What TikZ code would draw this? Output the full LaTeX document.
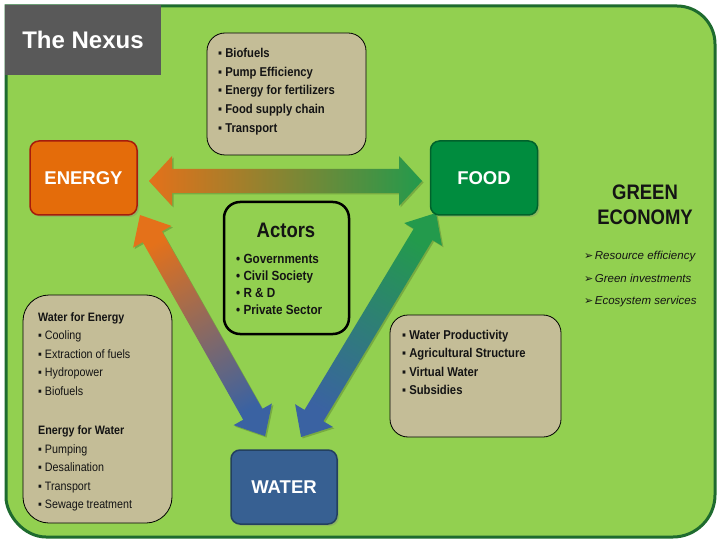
\documentclass[tikz,border=0pt]{standalone}
\usepackage{fontspec}
\setmainfont{Liberation Sans}
\newfontfamily\dejavu{DejaVu Sans}
\newfontfamily\nxnarrow[FakeStretch=0.88]{Liberation Sans}
\usetikzlibrary{shadows,calc}
\definecolor{bggreen}{HTML}{92D050}
\definecolor{bordergreen}{HTML}{1E6B2E}
\definecolor{titlegray}{HTML}{595959}
\definecolor{tanfill}{HTML}{C4BD97}
\definecolor{energyfill}{HTML}{E46C0A}
\definecolor{energyline}{HTML}{A61C0C}
\definecolor{foodfill}{HTML}{008C3E}
\definecolor{foodline}{HTML}{00622B}
\definecolor{waterfill}{HTML}{376092}
\definecolor{waterline}{HTML}{23405F}
\definecolor{arrorange}{HTML}{E4711A}
\definecolor{arrolive}{HTML}{8F8A3A}
\definecolor{arrgreen}{HTML}{239A4C}
\definecolor{arrmauve}{HTML}{A8606E}
\definecolor{arrblue}{HTML}{3A62A2}
\definecolor{arrteal}{HTML}{2B7C78}
\definecolor{textdark}{HTML}{141414}
\newcommand\nxarrowpts[5]{%
\coordinate (#1p0) at (0,0);
\coordinate (#1p1) at (#3,#4);
\coordinate (#1p2) at (#3,#5);
\coordinate (#1p3) at ({#2-#3},#5);
\coordinate (#1p4) at ({#2-#3},#4);
\coordinate (#1p5) at (#2,0);
\coordinate (#1p6) at ({#2-#3},-#4);
\coordinate (#1p7) at ({#2-#3},-#5);
\coordinate (#1p8) at (#3,-#5);
\coordinate (#1p9) at (#3,-#4);}
\newcommand\nxpointer{{\dejavu\upshape\fontsize{11}{11}\selectfont ➢}\hspace{1.5pt}}
\tikzset{
  tanbox/.style={draw=black, line width=0.8pt, fill=tanfill, inner sep=0pt},
  mainbox/.style={rounded corners=9pt, line width=1.5pt, inner sep=0pt,
    minimum width=107pt, minimum height=74pt, text=white,
    font=\fontsize{18.5}{20}\selectfont\bfseries,
    drop shadow={shadow xshift=2pt,shadow yshift=-2pt,opacity=.3}},
  listtext/.style={anchor=north west, inner sep=0pt, align=left, text=textdark},
  arrshadow/.style={preaction={fill=black,opacity=.18,transform canvas={shift={(1.5pt,-1.5pt)}}}}
}
\begin{document}
\begin{tikzpicture}[x=1pt,y=-1pt]
\useasboundingbox (0,0) rectangle (720,540);
\fill[white] (0,0) rectangle (720,540);
% outer frame
\draw[line width=3pt, draw=bordergreen, fill=bggreen] (6,6) -- (677,6)
  .. controls (698,6) and (715,23) .. (715,44) -- (715,495)
  .. controls (715,518) and (696,537) .. (673,537) -- (46,537)
  .. controls (24,537) and (6,515) .. (6,497) -- cycle;
% title
\node[fill=titlegray, minimum width=156pt, minimum height=70pt, inner sep=0pt,
  text=white, font=\fontsize{24}{26}\selectfont\bfseries] (title) at (83,40) {The Nexus};

% arrow end points
\coordinate (eftip1) at (149,181);
\coordinate (eftip2) at (422,181);
\coordinate (ewtip1) at (140,215);
\coordinate (ewtip2) at (265,436);
\coordinate (fwtip1) at (436,213);
\coordinate (fwtip2) at (301,437);
\begin{scope}[shift={(eftip1)}]\nxarrowpts{h}{273}{23}{25}{12}\end{scope}
\begin{scope}[shift={(ewtip1)},rotate=-60.5]\nxarrowpts{l}{254}{25}{22}{11}\end{scope}
\begin{scope}[shift={(fwtip1)},rotate=-121.07]\nxarrowpts{r}{261.5}{25}{22}{11}\end{scope}

\path[arrshadow, left color=arrorange, middle color=arrolive, right color=arrgreen]
  (hp0) -- (hp1) -- (hp2) -- (hp3) -- (hp4) -- (hp5) -- (hp6) -- (hp7) -- (hp8) -- (hp9) -- cycle;
\path[arrshadow, top color=arrorange, middle color=arrmauve, bottom color=arrblue, shading angle=29.5]
  (lp0) -- (lp1) -- (lp2) -- (lp3) -- (lp4) -- (lp5) -- (lp6) -- (lp7) -- (lp8) -- (lp9) -- cycle;
\path[arrshadow, top color=arrgreen, middle color=arrteal, bottom color=arrblue, shading angle=-31]
  (rp0) -- (rp1) -- (rp2) -- (rp3) -- (rp4) -- (rp5) -- (rp6) -- (rp7) -- (rp8) -- (rp9) -- cycle;

% main boxes
\node[mainbox, fill=energyfill, draw=energyline] (energy) at (83.5,178) {ENERGY};
\node[mainbox, fill=foodfill, draw=foodline] (food) at (484,178) {FOOD};
\node[mainbox, fill=waterfill, draw=waterline, minimum width=106pt] (water) at (284,487) {WATER};

% actors
\node[draw=black, line width=2.5pt, rounded corners=16pt, minimum width=125pt,
  minimum height=132pt, inner sep=0pt] (actors) at (286.5,268) {};
\node[font=\nxnarrow\fontsize{21}{23}\selectfont\bfseries, text=textdark, inner sep=0pt] (actorstitle) at (286,230) {Actors};
\node[listtext, font=\nxnarrow\fontsize{13.3}{17}\selectfont\bfseries] (actorslist) at (236,254.5)
  {• Governments\\• Civil Society\\• R \& D\\• Private Sector};

% top tan box
\node[tanbox, rounded corners=18pt, minimum width=159pt, minimum height=122pt] (topbox) at (286.5,94) {};
\node[listtext, font=\nxnarrow\fontsize{12.8}{18.7}\selectfont\bfseries] (toplist) at (218,48)
  {▪ Biofuels\\▪ Pump Efficiency\\▪ Energy for fertilizers\\▪ Food supply chain\\▪ Transport};

% right tan box
\node[tanbox, rounded corners=18pt, minimum width=171pt, minimum height=122pt] (rightbox) at (475.5,376) {};
\node[listtext, font=\nxnarrow\fontsize{12.8}{18.5}\selectfont\bfseries] (rightlist) at (402,330)
  {▪ Water Productivity\\▪ Agricultural Structure\\▪ Virtual Water\\▪ Subsidies};

% left tan box
\node[tanbox, rounded corners=26pt, minimum width=149pt, minimum height=228pt] (leftbox) at (97.5,409) {};
\node[listtext, font=\nxnarrow\fontsize{12.2}{18.6}\selectfont] (leftlist) at (38,312)
  {\textbf{Water for Energy}\\▪ Cooling\\▪ Extraction of fuels\\▪ Hydropower\\▪ Biofuels\\[20.4pt]
   \textbf{Energy for Water}\\▪ Pumping\\▪ Desalination\\▪ Transport\\▪ Sewage treatment};

% green economy
\node[align=center, font=\nxnarrow\fontsize{21}{25}\selectfont\bfseries, text=textdark, inner sep=0pt] (greeneco) at (645,204.5)
  {GREEN\\ECONOMY};
\node[listtext, font=\fontsize{11.5}{22.5}\selectfont\itshape] (geitems) at (584,251)
  {\nxpointer Resource efficiency\\\nxpointer Green investments\\\nxpointer Ecosystem services};
\end{tikzpicture}
\end{document}
